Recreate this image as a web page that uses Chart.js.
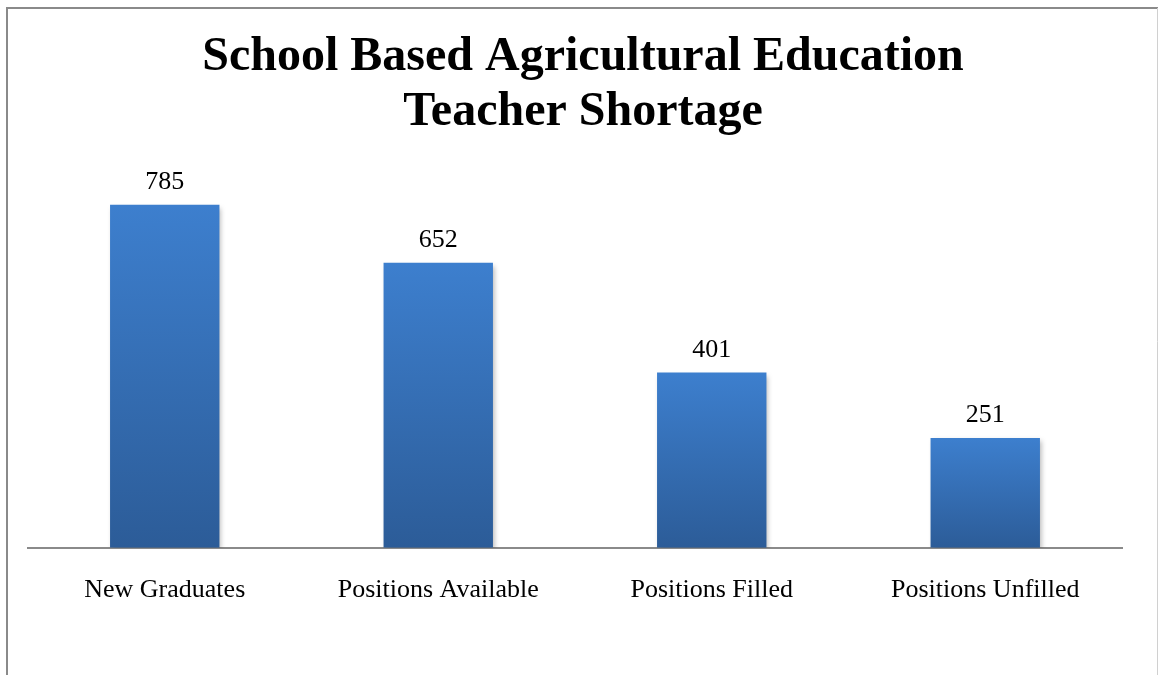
<!DOCTYPE html>
<html>
<head>
<meta charset="utf-8">
<script src="https://cdn.jsdelivr.net/npm/chart.js@4.4.1/dist/chart.umd.min.js"></script>
<style>
  html, body { margin: 0; padding: 0; background: #fff; }
  #wrap { width: 1158px; height: 675px; }
</style>
</head>
<body>
<div id="wrap"><canvas id="shortage"></canvas></div>
<script>
const categories = ['New Graduates', 'Positions Available', 'Positions Filled', 'Positions Unfilled'];
const counts = [785, 652, 401, 251];
const titleLines = ['School Based Agricultural Education', 'Teacher Shortage'];

const serif = '"Liberation Serif", "Times New Roman", Times, serif';

// vertical blue gradient per bar, lighter at the top
const barFill = (context) => {
  const chart = context.chart;
  if (!chart.chartArea || context.dataIndex === undefined) return '#3a78c6';
  const y = chart.scales.y;
  const top = y.getPixelForValue(counts[context.dataIndex]);
  const bottom = y.getPixelForValue(0);
  const g = chart.ctx.createLinearGradient(0, top, 0, bottom);
  g.addColorStop(0, '#3d7fce');
  g.addColorStop(1, '#2c5c98');
  return g;
};

// frame around the chart
const framePlugin = {
  id: 'frame',
  beforeDraw(chart) {
    const ctx = chart.ctx;
    ctx.save();
    ctx.strokeStyle = '#8a8a8a';
    ctx.lineWidth = 2;
    ctx.beginPath();
    ctx.moveTo(7, 675);
    ctx.lineTo(7, 8);
    ctx.lineTo(1158, 8);
    ctx.stroke();
    ctx.strokeStyle = '#d0d0d0';
    ctx.lineWidth = 1;
    ctx.beginPath();
    ctx.moveTo(1157.5, 8);
    ctx.lineTo(1157.5, 675);
    ctx.stroke();
    ctx.restore();
  }
};

// soft drop shadow under the bars
const shadowPlugin = {
  id: 'barShadow',
  beforeDatasetsDraw(chart) {
    const ctx = chart.ctx;
    ctx.save();
    ctx.shadowColor = 'rgba(0,0,0,0.28)';
    ctx.shadowBlur = 5;
    ctx.shadowOffsetX = 2;
    ctx.shadowOffsetY = 3;
  },
  afterDatasetsDraw(chart) {
    chart.ctx.restore();
  }
};

// value written above each bar
const valueLabels = {
  id: 'valueLabels',
  afterDatasetsDraw(chart) {
    const ctx = chart.ctx;
    const meta = chart.getDatasetMeta(0);
    ctx.save();
    ctx.font = '26px ' + serif;
    ctx.fillStyle = '#000';
    ctx.textAlign = 'center';
    ctx.textBaseline = 'alphabetic';
    meta.data.forEach((bar, i) => {
      ctx.fillText(String(counts[i]), bar.x, bar.y - 16);
    });
    ctx.restore();
  }
};

new Chart(document.getElementById('shortage'), {
  type: 'bar',
  data: {
    labels: categories,
    datasets: [{
      data: counts,
      backgroundColor: barFill,
      borderWidth: 0,
      categoryPercentage: 1,
      barPercentage: 0.4
    }]
  },
  options: {
    responsive: true,
    maintainAspectRatio: false,
    animation: false,
    layout: { padding: { left: 28, right: 20, top: 0, bottom: 42 } },
    plugins: {
      legend: { display: false },
      tooltip: { enabled: false },
      title: {
        display: true,
        text: titleLines,
        color: '#000',
        font: { family: serif, size: 48, weight: 'bold', lineHeight: 1.15 },
        padding: { top: 30, bottom: 14 }
      }
    },
    scales: {
      x: {
        grid: { display: false, drawTicks: false },
        border: { display: true, color: '#8a8a8a', width: 2 },
        ticks: {
          color: '#000',
          padding: 27,
          font: { family: serif, size: 26 },
          maxRotation: 0
        }
      },
      y: {
        position: 'right',
        min: 0,
        max: 900,
        grid: { display: false },
        border: { display: false },
        ticks: { display: false },
        // empty strip on the right side of the plot
        afterFit(scale) { scale.width = 16; }
      }
    }
  },
  plugins: [framePlugin, shadowPlugin, valueLabels]
});
</script>
</body>
</html>
